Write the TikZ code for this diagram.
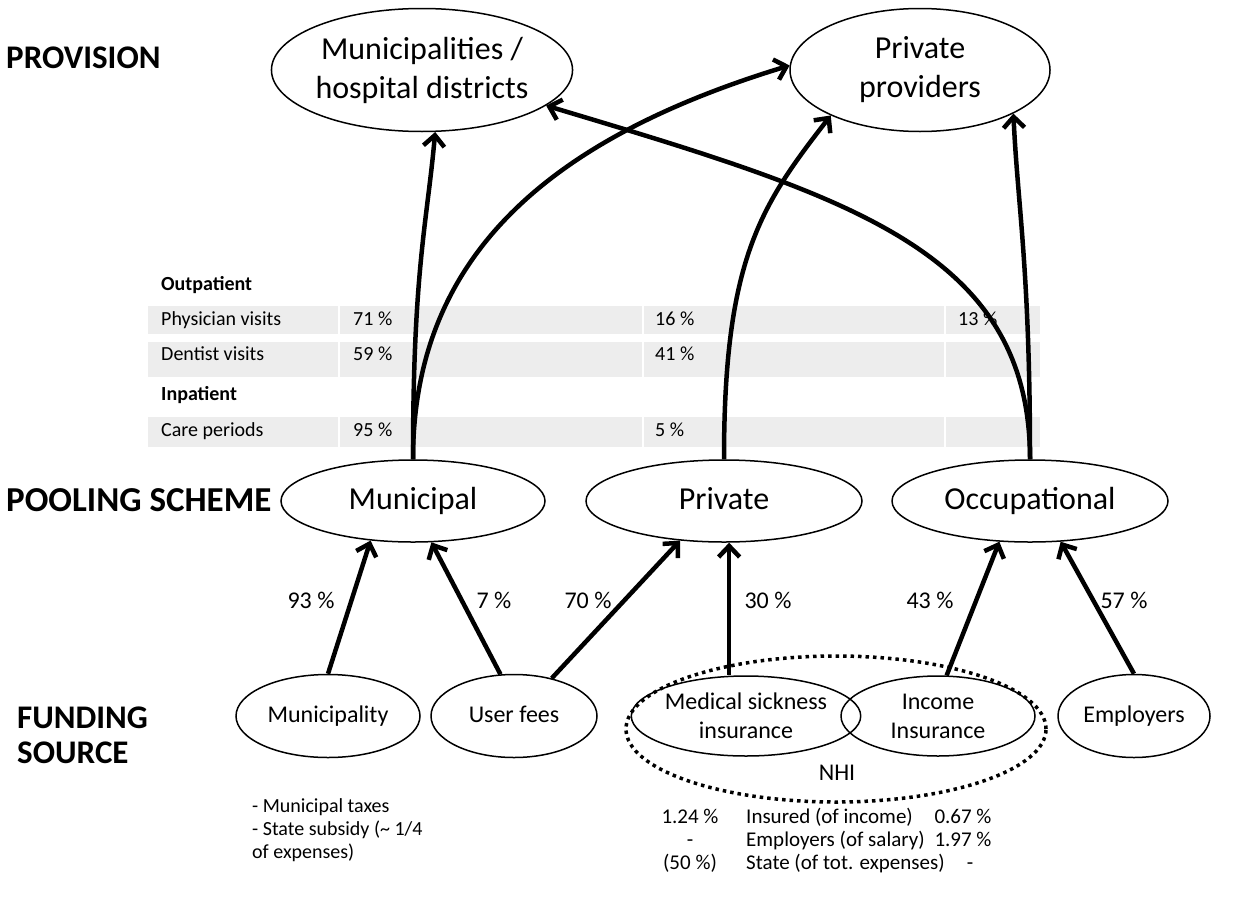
\documentclass[tikz,border=0pt]{standalone}
\usepackage{fontspec}
\setmainfont{Carlito}
\usetikzlibrary{shapes.geometric,arrows.meta}
\newcommand{\fsz}[2][1.2]{\fontsize{#2}{#1\dimexpr #2pt\relax}\selectfont}
\begin{document}
\begin{tikzpicture}[x=1pt,y=-1pt,
  ell/.style={draw, ellipse, line width=1.5pt, inner sep=0pt, align=center},
  provell/.style={ell, minimum width=287pt, minimum height=123pt, font={\fsz[1.22]{32}}},
  poolell/.style={ell, minimum height=82pt, font={\fsz{32}}, text height=24pt, text depth=8pt},
  fundell/.style={ell, minimum width=184pt, minimum height=83pt, font={\fsz{24}}},
  fundone/.style={fundell, text height=18pt, text depth=6pt},
  arr/.style={line width=4.5pt, -{Straight Barb[length=11pt,width=21pt]}},
  head/.style={font={\fsz{33}\bfseries}, anchor=west, inner sep=0pt, align=left},
  pct/.style={font={\fsz{24}}, inner sep=0pt},
  band/.style={fill=black!7, draw=none},
  tlab/.style={font={\fsz{20}}, anchor=west, inner sep=0pt, text height=13pt, text depth=4pt},
  tbold/.style={font={\fsz{20}\bfseries}, anchor=west, inner sep=0pt, text height=13pt, text depth=4pt},
  note/.style={font={\fsz{21}}, inner sep=0pt, text height=14pt, text depth=4pt},
]
\useasboundingbox (0,0) rectangle (1246,910);

% headings
\node[head] (hprov) at (6,58) {PROVISION};
\node[head, font={\fsz{35}\bfseries}] (hpool) at (6,500) {POOLING SCHEME};
\node[head] (hfund) at (17,718) {FUNDING};
\node[head] (hsrc) at (17,753) {SOURCE};

% table
\path[band] (148,306) rectangle (338,334);
\path[band] (340,306) rectangle (642,334);
\path[band] (644,306) rectangle (944,334);
\path[band] (946,306) rectangle (1040,334);
\path[band] (148,342) rectangle (338,377);
\path[band] (340,342) rectangle (642,377);
\path[band] (644,342) rectangle (944,377);
\path[band] (946,342) rectangle (1040,377);
\path[band] (148,417) rectangle (338,447);
\path[band] (340,417) rectangle (642,447);
\path[band] (644,417) rectangle (944,447);
\path[band] (946,417) rectangle (1040,447);
\node[tbold] (tout) at (161,286) {Outpatient};
\node[tlab] (tphy) at (161,321) {Physician visits};
\node[tlab] (tphy1) at (353,321) {71~\%};
\node[tlab] (tphy2) at (655,321) {16~\%};
\node[tlab] (tphy3) at (958,321) {13~\%};
\node[tlab] (tden) at (161,356) {Dentist visits};
\node[tlab] (tden1) at (353,356) {59~\%};
\node[tlab] (tden2) at (655,356) {41~\%};
\node[tbold] (tin) at (161,396) {Inpatient};
\node[tlab] (tcar) at (161,432) {Care periods};
\node[tlab] (tcar1) at (353,432) {95~\%};
\node[tlab] (tcar2) at (655,432) {5~\%};

% provision
\node[provell] (muni) at (422,70) {Municipalities /\\hospital districts};
\node[provell, minimum width=260pt] (priv) at (920,70) {Private\\providers};

% pooling
\node[poolell, minimum width=264pt] (pmun) at (413,501) {Municipal};
\node[poolell, minimum width=276pt] (ppriv) at (724,501) {Private};
\node[poolell, minimum width=276pt] (pocc) at (1030,501) {Occupational};

% funding
\node[fundone] (fmun) at (328,716) {Municipality};
\node[fundone, minimum width=166pt] (fuser) at (514,716) {User fees};
\node[fundell, minimum width=194pt, minimum height=80pt] (fmed) at (746,716) {Medical sickness\\insurance};
\node[fundell, minimum width=194pt, minimum height=80pt] (finc) at (938,716) {Income\\Insurance};
\node[fundone, minimum width=152pt] (femp) at (1134,716) {Employers};

% NHI
\node[draw, ellipse, line width=3.5pt, dash pattern=on 3.5pt off 4pt, minimum width=420pt, minimum height=146pt, inner sep=0pt] (nhi) at (836,729) {};
\node[pct] (nhilab) at (837,773) {NHI};

% notes
\node[anchor=north west, align=left, inner sep=0pt, font={\fsz[1.15]{20}}] (mnote) at (252,798) {- Municipal taxes\\- State subsidy (\textasciitilde{} 1/4\\of expenses)};

\node[note] (b11) at (690,818) {1.24~\%};
\node[note] (b21) at (690,841) {-};
\node[note] (b31) at (690,864) {(50~\%)};
\node[note, anchor=west] (b12) at (746,818) {Insured (of income)};
\node[note, anchor=west] (b22) at (746,841) {Employers (of salary)};
\node[note, anchor=west] (b32) at (746,864) {State (of tot. expenses)};
\node[note] (b13) at (963,818) {0.67~\%};
\node[note] (b23) at (963,841) {1.97~\%};
\node[note] (b33) at (970,864) {-};

% funding -> pooling
\draw[arr] (fmun.north) -- (pmun.-137);
\draw[arr] (fuser.108) -- (pmun.-66);
\draw[arr] (fuser.45) -- (ppriv.-138);
\draw[arr] (fmed.north -| ppriv.-83) -- (ppriv.-83);
\draw[arr] (finc.78) -- (pocc.-127);
\draw[arr] (femp.north) -- (pocc.-53);

\node[pct] (l93) at (311,600) {93~\%};
\node[pct] (l7) at (494,600) {7~\%};
\node[pct] (l70) at (588,600) {70~\%};
\node[pct] (l30) at (768,600) {30~\%};
\node[pct] (l43) at (930,600) {43~\%};
\node[pct] (l57) at (1124,600) {57~\%};

% pooling -> provision
\draw[arr] (pmun.north) .. controls +(0,-190) and +(-8,90) .. (muni.-78);
\draw[arr] (pmun.north) .. controls +(0,-210) and +(-230,70) .. (priv.178);
\draw[arr] (ppriv.north) .. controls +(0,-200) and +(-70,90) .. (priv.-153);
\draw[arr] (pocc.north) .. controls +(0,-190) and +(4,90) .. (priv.-25);
\draw[arr] (pocc.north) .. controls +(0,-210) and +(300,90) .. (muni.-16);
\end{tikzpicture}
\end{document}
